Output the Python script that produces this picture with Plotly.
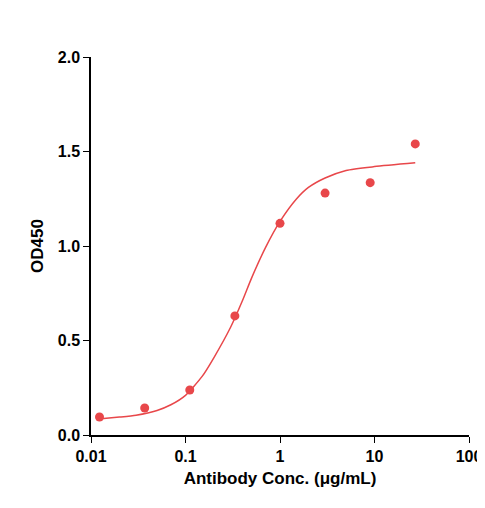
import plotly.graph_objects as go

conc = [0.0123, 0.037, 0.111, 0.333, 1.0, 3.0, 9.0, 27.0]
od = [0.095, 0.143, 0.238, 0.63, 1.12, 1.28, 1.335, 1.54]

curve_x = [0.012, 0.02, 0.03, 0.05, 0.07, 0.1, 0.15, 0.2, 0.3, 0.4, 0.5, 0.7, 1.0, 1.5, 2.0, 3.0, 5.0, 10.0, 27.0]
curve_y = [0.085, 0.095, 0.105, 0.13, 0.16, 0.21, 0.31, 0.41, 0.57, 0.71, 0.83, 0.99, 1.13, 1.25, 1.31, 1.36, 1.40, 1.42, 1.44]

red = "#E8474A"
fig = go.Figure()
fig.add_trace(go.Scatter(x=curve_x, y=curve_y, mode="lines", line=dict(color=red, width=1.5, shape="spline", smoothing=0.6), showlegend=False))
fig.add_trace(go.Scatter(x=conc, y=od, mode="markers", marker=dict(color=red, size=9), showlegend=False))

font = dict(family="Liberation Sans, Arial", size=16, color="black")
fig.update_layout(
    width=485, height=508, margin=dict(l=83, r=24, t=49, b=81, autoexpand=False),
    plot_bgcolor="white", paper_bgcolor="white", font=font,
    xaxis=dict(type="log", range=[-2, 2], tickvals=[0.01, 0.1, 1, 10, 100],
               ticktext=["<b>0.01</b>", "<b>0.1</b>", "<b>1</b>", "<b>10</b>", "<b>100</b>"],
               showline=True, linecolor="black", linewidth=1.5, ticks="outside", ticklen=6,
               tickcolor="black", showgrid=False, zeroline=False, automargin=False,
               title=dict(text="<b>Antibody Conc. (μg/mL)</b>", font=dict(size=17), standoff=8)),
    yaxis=dict(range=[0, 2], tickvals=[0, 0.5, 1, 1.5, 2],
               ticktext=["<b>0.0</b>", "<b>0.5</b>", "<b>1.0</b>", "<b>1.5</b>", "<b>2.0</b>"],
               showline=True, linecolor="black", linewidth=1.5, ticks="outside", ticklen=6,
               tickcolor="black", showgrid=False, zeroline=False, automargin=False,
               title=dict(text="<b>OD450</b>", font=dict(size=17), standoff=10)),
)
fig.write_html("out.html")
